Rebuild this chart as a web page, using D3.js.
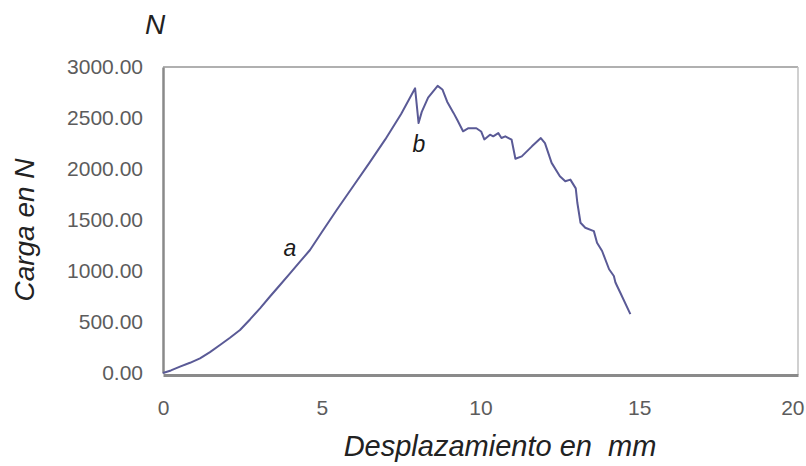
<!DOCTYPE html>
<html>
<head>
<meta charset="utf-8">
<script src="https://cdnjs.cloudflare.com/ajax/libs/d3/7.8.5/d3.min.js"></script>
<style>
  html, body { margin: 0; padding: 0; background: #fff; }
  svg { display: block; }
</style>
</head>
<body>
<svg id="chart" width="806" height="466"></svg>
<script>
// Displacement (mm)
const desplazamiento = [0, 0.25, 0.535, 0.85, 1.165, 1.48, 1.795, 2.11, 2.425, 2.74, 3.055, 3.37, 3.685,
  4.0, 4.315, 4.63, 5.0, 5.47, 6.0, 6.5, 7.0, 7.5, 7.94,
  8.05, 8.15, 8.35, 8.65, 8.8, 8.95, 9.15, 9.27, 9.45, 9.62, 9.87, 10.02, 10.12, 10.3, 10.4, 10.56, 10.66,
  10.78, 10.98, 11.1, 11.3, 11.62, 11.9, 12.03, 12.24, 12.5, 12.67, 12.83, 13.0, 13.05, 13.15, 13.3,
  13.57, 13.67, 13.83, 14.05, 14.2, 14.25, 14.4, 14.72];
// Load (N)
const carga = [0, 25, 62, 100, 144, 205, 274, 345, 421, 525, 634, 750, 863,
  977, 1091, 1206, 1380, 1598, 1836, 2060, 2290, 2540, 2791,
  2450, 2560, 2700, 2815, 2780, 2660, 2550, 2480, 2370, 2400, 2400, 2368, 2290, 2336, 2320, 2352, 2304,
  2320, 2287, 2100, 2124, 2222, 2303, 2254, 2060, 1929, 1880, 1896, 1810, 1669, 1473, 1424,
  1391, 1277, 1196, 1017, 951, 887, 789, 577];
const xTicks = [0, 5, 10, 15, 20];
const yTicks = [0, 500, 1000, 1500, 2000, 2500, 3000];
const annotations = [{label: "a", x: 4.0, y: 1150}, {label: "b", x: 8.06, y: 2165}];

const svg = d3.select("#chart");
const x = d3.scaleLinear().domain([0, 20]).range([163, 798]);
const y = d3.scaleLinear().domain([0, 3000]).range([373, 67]);
const font = "'Liberation Sans', Arial, sans-serif";

// frame
svg.append("line").attr("x1", x(0)).attr("x2", x(20)).attr("y1", y(3000)).attr("y2", y(3000))
  .attr("stroke", "#b0b0b0").attr("stroke-width", 2);
svg.append("line").attr("x1", x(20)).attr("x2", x(20)).attr("y1", y(3000)).attr("y2", y(0) + 2)
  .attr("stroke", "#c0c0c0").attr("stroke-width", 1.5);

// axes
const yAxis = d3.axisLeft(y).tickValues(yTicks).tickSize(0).tickPadding(20).tickFormat(d3.format(".2f"));
const gy = svg.append("g").attr("transform", `translate(${x(0)},0)`).call(yAxis);
gy.select(".domain").attr("stroke", "#8a8a8a").attr("stroke-width", 2.5);
gy.selectAll("text").attr("font-family", font).attr("font-size", 21).attr("fill", "#5c5c5c");

const xAxis = d3.axisBottom(x).tickValues(xTicks).tickSize(0).tickPadding(25).tickFormat(d3.format("d"));
const gx = svg.append("g").attr("transform", `translate(0,${y(0) + 2})`).call(xAxis);
gx.select(".domain").attr("stroke", "#8a8a8a").attr("stroke-width", 3);
gx.selectAll("text").attr("font-family", font).attr("font-size", 21).attr("fill", "#5c5c5c");
// last label sits against the right edge, as in the reference
gx.selectAll(".tick").filter(d => d === 20).select("text").attr("text-anchor", "end").attr("dx", 6);

// data line
const pts = desplazamiento.map((d, i) => [d, carga[i]]);
svg.append("path").datum(pts)
  .attr("fill", "none").attr("stroke", "#5a5a96").attr("stroke-width", 2)
  .attr("stroke-linejoin", "round")
  .attr("d", d3.line().x(d => x(d[0])).y(d => y(d[1])));

// annotations
svg.selectAll("text.ann").data(annotations).join("text").attr("class", "ann")
  .attr("x", d => x(d.x)).attr("y", d => y(d.y))
  .attr("text-anchor", "middle")
  .attr("font-family", font).attr("font-style", "italic").attr("font-size", 23).attr("fill", "#1a1a1a")
  .text(d => d.label);

// titles
svg.append("text").attr("x", 155).attr("y", 34).attr("text-anchor", "middle")
  .attr("font-family", font).attr("font-style", "italic").attr("font-size", 28).attr("fill", "#222")
  .text("N");
svg.append("text").attr("transform", "translate(34,230) rotate(-90)").attr("text-anchor", "middle")
  .attr("font-family", font).attr("font-style", "italic").attr("font-size", 28).attr("fill", "#222")
  .text("Carga en N");
svg.append("text").attr("x", 500).attr("y", 456).attr("text-anchor", "middle")
  .attr("font-family", font).attr("font-style", "italic").attr("font-size", 29).attr("fill", "#222")
  .attr("xml:space", "preserve").style("white-space", "pre")
  .text("Desplazamiento en  mm");
</script>
</body>
</html>
